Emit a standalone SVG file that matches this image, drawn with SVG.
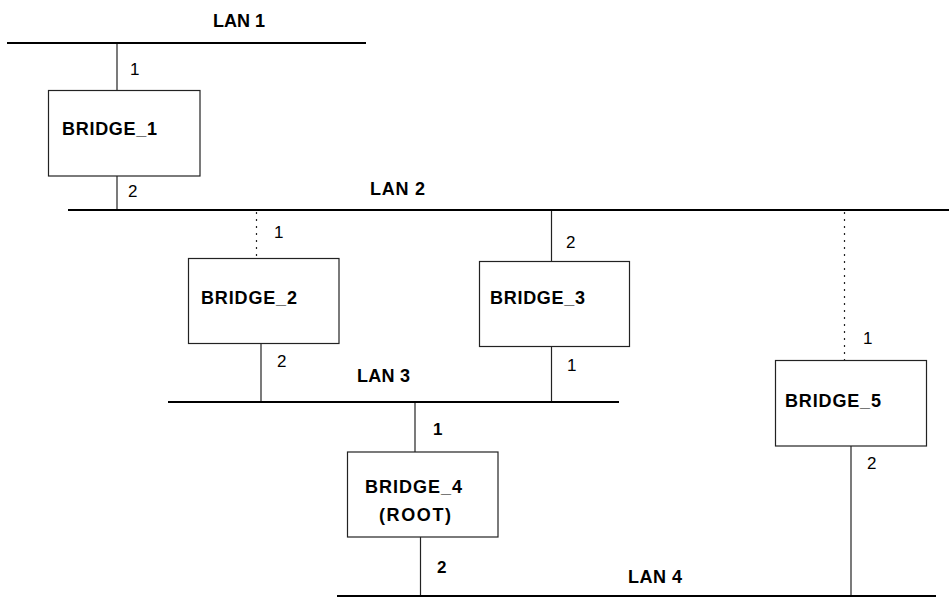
<svg xmlns="http://www.w3.org/2000/svg" width="949" height="597" viewBox="0 0 949 597">
<style>
.lan{stroke:#000;stroke-width:2.2;fill:none}
.link{stroke:#222;stroke-width:1.2;fill:none}
.dot{stroke:#222;stroke-width:1.2;fill:none;stroke-dasharray:2 5}
.box{fill:#fff;stroke:#222;stroke-width:1.2}
.lbl{font-family:"Liberation Sans",Arial,sans-serif;font-size:18px;font-weight:bold;fill:#000}
.port{font-family:"Liberation Sans",Arial,sans-serif;font-size:17px;fill:#000}
.portb{font-family:"Liberation Sans",Arial,sans-serif;font-size:17px;font-weight:bold;fill:#000}
</style>
<rect width="949" height="597" fill="#fff"/>
<g id="connectors">
<line class="link" x1="117" y1="43" x2="117" y2="90"/>
<line class="link" x1="117" y1="176" x2="117" y2="210"/>
<line class="dot" x1="256.5" y1="212" x2="256.5" y2="258"/>
<line class="link" x1="261" y1="343" x2="261" y2="402"/>
<line class="link" x1="551.5" y1="210" x2="551.5" y2="261"/>
<line class="link" x1="551.5" y1="346" x2="551.5" y2="402"/>
<line class="link" x1="415" y1="402" x2="415" y2="452"/>
<line class="link" x1="420.5" y1="537" x2="420.5" y2="596"/>
<line class="dot" x1="844.5" y1="212" x2="844.5" y2="360"/>
<line class="link" x1="851" y1="446" x2="851" y2="596"/>
</g>
<g id="lan1"><line class="lan" x1="7" y1="43" x2="366" y2="43"/><text class="lbl" x="213" y="27" textLength="52">LAN 1</text></g>
<g id="lan2"><line class="lan" x1="68" y1="210" x2="949" y2="210"/><text class="lbl" x="370" y="195" textLength="55">LAN 2</text></g>
<g id="lan3"><line class="lan" x1="168" y1="402" x2="619" y2="402"/><text class="lbl" x="357" y="382" textLength="53">LAN 3</text></g>
<g id="lan4"><line class="lan" x1="337" y1="596" x2="936" y2="596"/><text class="lbl" x="628" y="583" textLength="54">LAN 4</text></g>
<g id="bridge1">
<rect class="box" x="48.5" y="90.5" width="151.5" height="85.5"/>
<text class="lbl" x="62" y="135" textLength="95">BRIDGE_1</text>
<text class="port" x="130" y="75">1</text>
<text class="port" x="128" y="197">2</text>
</g>
<g id="bridge2">
<rect class="box" x="188.5" y="258.5" width="150.5" height="85"/>
<text class="lbl" x="201" y="304" textLength="96">BRIDGE_2</text>
<text class="port" x="274" y="238">1</text>
<text class="port" x="277" y="367">2</text>
</g>
<g id="bridge3">
<rect class="box" x="479.5" y="261.5" width="150" height="85"/>
<text class="lbl" x="490" y="304" textLength="95">BRIDGE_3</text>
<text class="port" x="566" y="248">2</text>
<text class="port" x="567" y="371">1</text>
</g>
<g id="bridge4">
<rect class="box" x="347.5" y="452" width="150.5" height="85"/>
<text class="lbl" x="365" y="493" textLength="97">BRIDGE_4</text>
<text class="lbl" x="379" y="521" textLength="72">(ROOT)</text>
<text class="portb" x="433" y="435">1</text>
<text class="portb" x="437" y="573">2</text>
</g>
<g id="bridge5">
<rect class="box" x="775.5" y="360.5" width="151" height="85.5"/>
<text class="lbl" x="785" y="407" textLength="96">BRIDGE_5</text>
<text class="port" x="863" y="344">1</text>
<text class="port" x="867" y="469">2</text>
</g>
</svg>
